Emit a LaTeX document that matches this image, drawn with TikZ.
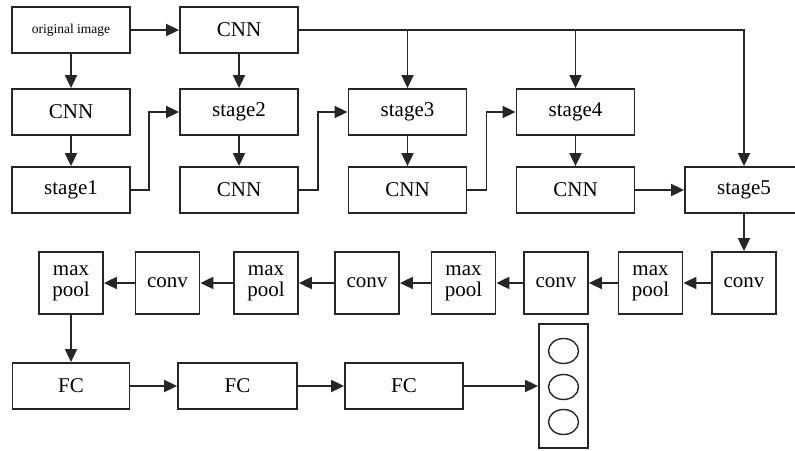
\documentclass[tikz,border=0pt]{standalone}
\usepackage{fontspec}
\setmainfont{Liberation Serif}
\usetikzlibrary{arrows.meta}
\begin{document}
\begin{tikzpicture}[x=1pt,y=-1pt,
  box/.style={draw=black!85, line width=1.8pt, inner sep=0pt, minimum width=118pt, minimum height=46pt, font=\fontsize{21}{21}\selectfont},
  sbox/.style={box, minimum width=64pt, minimum height=62pt, align=center},
  conn/.style={line width=1.8pt, draw=black!85, -{Triangle[length=13pt,width=12pt]}},
  plain/.style={line width=1.4pt, draw=black!85}]
\useasboundingbox (0,0) rectangle (795,450);
% row 1
\node[box, font=\fontsize{13.5}{14}\selectfont] (orig) at (71,30) {original image};
\node[box] (cnn0) at (239,30) {CNN};
% row 2
\node[box] (cnnA) at (71,112) {CNN};
\node[box] (st2) at (239,112) {stage2};
\node[box] (st3) at (407.5,112) {stage3};
\node[box] (st4) at (575.5,112) {stage4};
% row 3
\node[box] (st1) at (71,190) {stage1};
\node[box] (cnnB) at (239,190) {CNN};
\node[box] (cnnC) at (407.5,190) {CNN};
\node[box] (cnnD) at (575.5,190) {CNN};
\node[box] (st5) at (744,190) {stage5};
% row 4
\node[sbox] (mp1) at (71,283) {max\\pool};
\node[sbox] (cv1) at (167.5,283) {conv};
\node[sbox] (mp2) at (266,283) {max\\pool};
\node[sbox] (cv2) at (367,283) {conv};
\node[sbox] (mp3) at (463.5,283) {max\\pool};
\node[sbox] (cv3) at (556,283) {conv};
\node[sbox] (mp4) at (650.5,283) {max\\pool};
\node[sbox] (cv4) at (744,283) {conv};
% row 5
\node[box, minimum width=117pt] (fc1) at (71,386) {FC};
\node[box, minimum width=119pt] (fc2) at (237.5,386) {FC};
\node[box] (fc3) at (404,386) {FC};
\node[box, minimum width=49pt, minimum height=124pt] (out) at (563.5,386) {};
\draw[plain] (563.5,351) ellipse [x radius=15, y radius=12.5];
\draw[plain] (563.5,387) ellipse [x radius=15, y radius=12.5];
\draw[plain] (563.5,422) ellipse [x radius=15, y radius=12.5];
% connectors
\draw[conn] (orig) -- (cnn0);
\draw[conn] (orig) -- (cnnA);
\draw[conn] (cnn0) -- (st2);
\draw[conn] (cnnA) -- (st1);
\draw[conn] (st2) -- (cnnB);
\draw[conn] (st3) -- (cnnC);
\draw[conn] (st4) -- (cnnD);
\draw[conn] (st1.east) -- ++(18,0) |- (st2.west);
\draw[conn] (cnnB.east) -- ++(19,0) |- (st3.west);
\draw[conn] (cnnC.east) -- ++(19,0) |- (st4.west);
\draw[conn] (cnnD) -- (st5);
\draw[conn] (cnn0.east) -| (st5.north);
\draw[conn] (cnn0.east -| st3) -- (st3.north);
\draw[conn] (cnn0.east -| st4) -- (st4.north);
\draw[conn] (st5) -- (cv4);
\draw[conn] (cv4) -- (mp4);
\draw[conn] (mp4) -- (cv3);
\draw[conn] (cv3) -- (mp3);
\draw[conn] (mp3) -- (cv2);
\draw[conn] (cv2) -- (mp2);
\draw[conn] (mp2) -- (cv1);
\draw[conn] (cv1) -- (mp1);
\draw[conn] (mp1) -- (fc1);
\draw[conn] (fc1) -- (fc2);
\draw[conn] (fc2) -- (fc3);
\draw[conn] (fc3) -- (out);
\end{tikzpicture}
\end{document}
